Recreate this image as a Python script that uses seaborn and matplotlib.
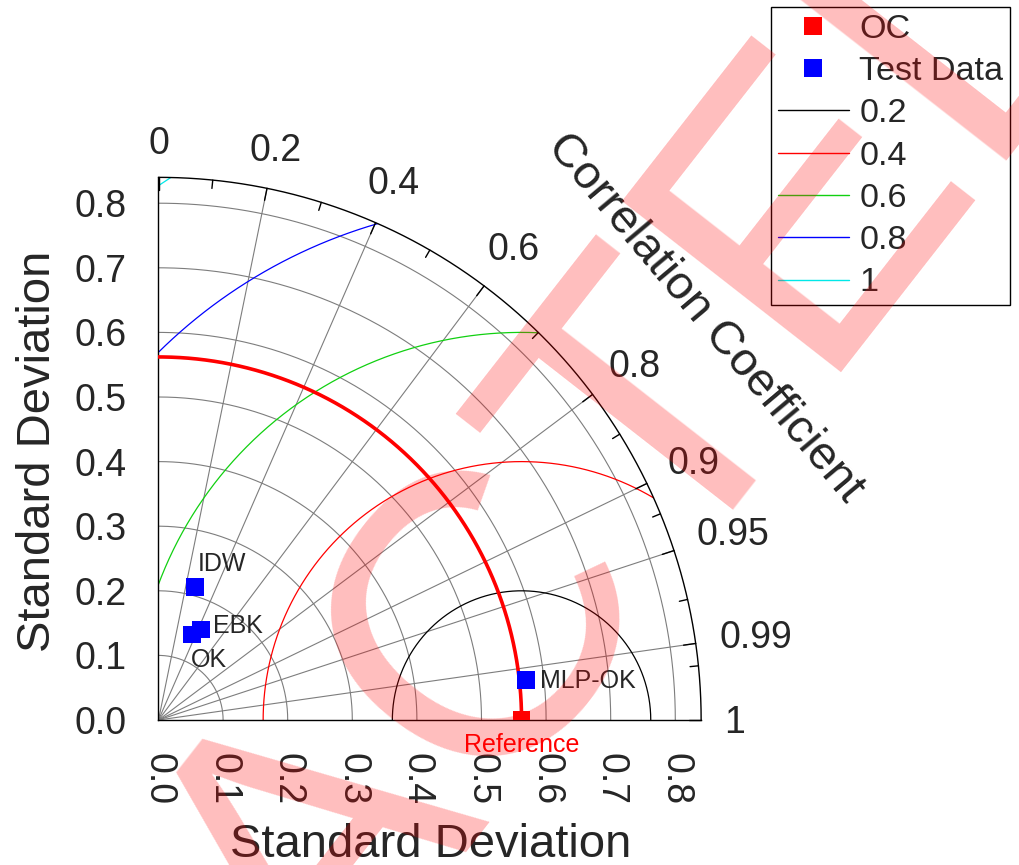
import numpy as np
import pandas as pd
import matplotlib
matplotlib.use("Agg")
import matplotlib.pyplot as plt
from matplotlib.lines import Line2D
from matplotlib.ticker import MultipleLocator
import seaborn as sns

# ---------------- data ----------------
model_names = ["IDW", "EBK", "OK", "MLP-OK"]
model_std = [0.213, 0.155, 0.142, 0.572]
model_corr = [0.267, 0.427, 0.361, 0.994]
ref_label = "Reference"
ref_std = 0.562

rms_levels = [0.2, 0.4, 0.6, 0.8, 1.0]
rms_labels = ["0.2", "0.4", "0.6", "0.8", "1"]
rms_colors = ["black", "#ff0000", "#11d011", "#0000ff", "#00e8e8"]

std_ticks = [0.0, 0.1, 0.2, 0.3, 0.4, 0.5, 0.6, 0.7, 0.8]
std_tick_labels = ["0.0", "0.1", "0.2", "0.3", "0.4", "0.5", "0.6", "0.7", "0.8"]
std_max = 0.84

corr_major = [0.0, 0.2, 0.4, 0.6, 0.8, 0.9, 0.95, 0.99, 1.0]
corr_major_labels = ["0", "0.2", "0.4", "0.6", "0.8", "0.9", "0.95", "0.99", "1"]
corr_minor = [0.1, 0.3, 0.5, 0.7, 0.85, 0.925, 0.975, 0.995]
corr_grid = [0.2, 0.4, 0.6, 0.8, 0.9, 0.95, 0.99]

legend_labels = ["OC", "Test Data"]
watermark = "RETRACTED"

# ---------------- style ----------------
sns.set_style("white")
plt.rcParams["font.family"] = ["Liberation Sans", "DejaVu Sans"]

W, H, DPI = 1020, 865, 100
S = 646.0  # pixels per std unit
x0_px, y0_px = 158.5, 720.0

fig = plt.figure(figsize=(W / DPI, H / DPI), dpi=DPI)
ax = fig.add_axes([x0_px / W, (H - y0_px) / H, std_max * S / W, std_max * S / H])
ax.set_xlim(0, std_max)
ax.set_ylim(0, std_max)
ax.set_facecolor("white")

for side in ["top", "right"]:
    ax.spines[side].set_visible(False)
for side in ["left", "bottom"]:
    ax.spines[side].set_color("black")
    ax.spines[side].set_linewidth(1.0)

ax.set_xticks(std_ticks)
ax.set_xticklabels(std_tick_labels, rotation=-90)
ax.set_yticks(std_ticks)
ax.set_yticklabels(std_tick_labels)
ax.xaxis.set_minor_locator(MultipleLocator(0.05))
ax.yaxis.set_minor_locator(MultipleLocator(0.05))
ax.tick_params(axis="both", which="major", direction="out", length=13, width=1.0,
               labelsize=27, color="black")
ax.tick_params(axis="both", which="minor", direction="out", length=6.5, width=1.0,
               color="black")
ax.tick_params(axis="x", which="major", pad=11)
ax.tick_params(axis="y", which="major", pad=10)
ax.grid(False)

grid_col = "#7d7d7d"
th = np.linspace(0, np.pi / 2, 400)
# concentric std arcs
for s in std_ticks[1:]:
    ax.plot(s * np.cos(th), s * np.sin(th), color=grid_col, lw=0.8, zorder=1)
# radial correlation lines
for c in corr_grid:
    a = np.arccos(c)
    ax.plot([0, std_max * np.cos(a)], [0, std_max * np.sin(a)], color=grid_col,
            lw=0.8, zorder=1)
# outer arc
ax.plot(std_max * np.cos(th), std_max * np.sin(th), color="black", lw=1.0,
        zorder=4, clip_on=False)

# correlation ticks (inward)
for c in corr_major:
    a = np.arccos(c)
    ax.plot([std_max * np.cos(a), (std_max - 0.019) * np.cos(a)],
            [std_max * np.sin(a), (std_max - 0.019) * np.sin(a)],
            color="black", lw=1.0, zorder=4, clip_on=False)
for c in corr_minor:
    a = np.arccos(c)
    ax.plot([std_max * np.cos(a), (std_max - 0.013) * np.cos(a)],
            [std_max * np.sin(a), (std_max - 0.013) * np.sin(a)],
            color="black", lw=1.0, zorder=4, clip_on=False)

# correlation labels
em = 27 * DPI / 72.0
capH = 0.716 * em
gap = 23.0
for c, lab in zip(corr_major, corr_major_labels):
    a = np.arccos(c)
    w = sum(0.278 if ch == "." else 0.556 for ch in lab) * em
    r_px = std_max * S + gap + abs(np.cos(a)) * w / 2 + abs(np.sin(a)) * capH / 2
    cx = r_px * np.cos(a) / S
    cy = (r_px * np.sin(a) - capH / 2) / S
    ax.text(cx, cy, lab, fontsize=27, ha="center", va="baseline", clip_on=False)

# RMS contours centred on the reference
for R, col in zip(rms_levels, rms_colors):
    cmin = (std_max ** 2 - ref_std ** 2 - R ** 2) / (2 * ref_std * R)
    phi_lo = np.arccos(np.clip(cmin, -1, 1))
    phi_hi = np.arccos(np.clip(-ref_std / R, -1, 1))
    phi = np.linspace(phi_lo, phi_hi, 300)
    ax.plot(ref_std + R * np.cos(phi), R * np.sin(phi), color=col, lw=0.9, zorder=2)

# reference std arc
ax.plot(ref_std * np.cos(th), ref_std * np.sin(th), color="#ff0000", lw=2.6, zorder=3)

# points
pts = pd.DataFrame({
    "name": [ref_label] + model_names,
    "kind": ["OC"] + ["Test Data"] * len(model_names),
    "std": [ref_std] + model_std,
    "corr": [1.0] + model_corr,
})
pts["x"] = pts["std"] * pts["corr"]
pts["y"] = pts["std"] * np.sqrt(1 - pts["corr"] ** 2)
sns.scatterplot(data=pts, x="x", y="y", hue="kind",
                palette={"OC": "#ff0000", "Test Data": "#0000ff"},
                marker="s", s=165, linewidth=0, legend=False, ax=ax, zorder=6)
ax.set_xlabel("")
ax.set_ylabel("")

label_offsets = {"IDW": (2.0, 11.5), "EBK": (8.5, -2.3), "OK": (-0.6, -23.6),
                 "MLP-OK": (10.4, -6.1)}
for _, row in pts.iterrows():
    if row["name"] == ref_label:
        ax.text(row["x"], -31.7 / S, ref_label, color="#ff0000", fontsize=18,
                ha="center", va="baseline", clip_on=False, zorder=7)
    else:
        ax.annotate(row["name"], (row["x"], row["y"]), xytext=label_offsets[row["name"]],
                    textcoords="offset points", fontsize=18, ha="left",
                    va="baseline", zorder=7)

# axis titles
fig.text(38 / W, 1 - 451 / H, "Standard Deviation", fontsize=34, rotation=90,
         ha="center", va="center")
fig.text(431 / W, 1 - 857 / H, "Standard Deviation", fontsize=34,
         ha="center", va="baseline")
fig.text(705 / W, 1 - 318 / H, "Correlation Coefficient", fontsize=34,
         rotation=-50, rotation_mode="anchor", ha="center", va="center")

# legend
handles = [
    Line2D([], [], ls="none", marker="s", markersize=13, color="#ff0000", markeredgewidth=0),
    Line2D([], [], ls="none", marker="s", markersize=13, color="#0000ff", markeredgewidth=0),
]
handles += [Line2D([], [], color=c, lw=1.0) for c in rms_colors]
leg = fig.legend(handles, legend_labels + rms_labels, loc="upper right",
                 bbox_to_anchor=(1010 / W, 1 - 7 / H), borderaxespad=0,
                 fontsize=24.6, frameon=True, fancybox=False, framealpha=1,
                 edgecolor="black", handlelength=2.1, handletextpad=0.29,
                 labelspacing=0.33, borderpad=0.2)
leg.get_frame().set_linewidth(1.0)

# watermark overlay
fig.text(0.3875, -0.0414, watermark, fontsize=290, color="#ff0000", alpha=0.26,
         rotation=52, rotation_mode="anchor", ha="center", va="baseline", zorder=100)

fig.savefig("out.png", dpi=DPI)
